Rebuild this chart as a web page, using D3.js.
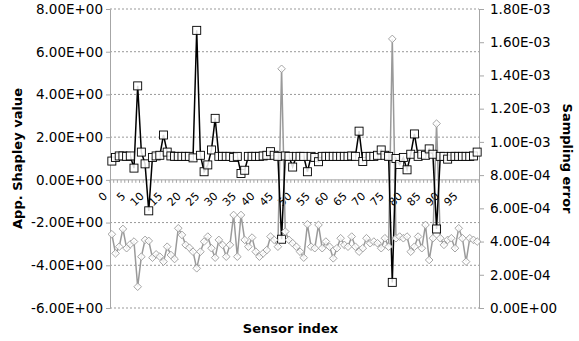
<!DOCTYPE html>
<html>
<head>
<meta charset="utf-8">
<script src="https://cdn.jsdelivr.net/npm/d3@7"></script>
<style>
  body { margin: 0; background: #fff; }
  svg { display: block; font-family: "DejaVu Sans", Verdana, sans-serif; }
</style>
</head>
<body>
<div id="chart"></div>
<script>
// --- DATA ---
const sensors = d3.range(100);

// approximate Shapley value per sensor (left axis)
const shapley = [
  0.88, 1.05, 1.12, 1.12, 1.10, 1.12, 0.55, 4.40, 1.30, 0.75,
  -1.45, 1.05, 1.12, 1.15, 2.10, 1.30, 1.12, 1.10, 1.10, 1.10,
  1.10, 1.10, 1.03, 7.00, 1.15, 0.38, 0.70, 1.40, 2.88, 1.10,
  1.10, 1.10, 1.10, 1.05, 1.10, 0.30, 0.45, 1.10, 1.10, 1.10,
  1.10, 1.12, 1.15, 1.32, 1.15, 1.10, -2.78, 1.12, 1.10, 0.60,
  1.10, 1.10, 1.10, 0.38, 1.10, 1.05, 0.85, 1.10, 1.10, 1.10,
  1.10, 1.10, 1.10, 1.10, 1.10, 1.12, 1.10, 2.28, 0.86, 1.10,
  1.10, 1.10, 1.15, 1.40, 1.15, 1.10, -4.80, 1.00, 0.72, 1.05,
  0.47, 1.20, 2.15, 1.10, 1.20, 1.15, 1.45, 1.20, -2.30, 1.10,
  1.10, 0.97, 1.10, 1.10, 1.10, 1.10, 1.10, 1.10, 1.12, 1.30
];

// sampling error per sensor (right axis)
const samplingError = [
  4.44e-4, 3.29e-4, 3.69e-4, 4.76e-4, 3.60e-4, 3.84e-4, 4.00e-4, 1.28e-4, 3.09e-4, 4.10e-4,
  4.04e-4, 3.03e-4, 3.23e-4, 3.09e-4, 2.79e-4, 3.69e-4, 3.19e-4, 2.95e-4, 4.80e-4, 4.40e-4,
  3.80e-4, 3.63e-4, 3.39e-4, 2.39e-4, 3.39e-4, 4.00e-4, 4.30e-4, 3.60e-4, 3.03e-4, 4.10e-4,
  3.80e-4, 3.09e-4, 3.80e-4, 5.60e-4, 3.09e-4, 5.60e-4, 4.10e-4, 3.69e-4, 4.24e-4, 3.39e-4,
  3.09e-4, 3.29e-4, 3.49e-4, 4.30e-4, 4.10e-4, 3.69e-4, 1.44e-3, 4.60e-4, 4.10e-4, 3.90e-4,
  3.69e-4, 3.39e-4, 3.03e-4, 5.04e-4, 3.69e-4, 3.60e-4, 5.00e-4, 3.60e-4, 4.00e-4, 3.69e-4,
  2.99e-4, 3.60e-4, 4.20e-4, 3.80e-4, 3.69e-4, 4.30e-4, 3.69e-4, 3.39e-4, 3.60e-4, 4.20e-4,
  3.90e-4, 4.00e-4, 3.90e-4, 3.60e-4, 4.20e-4, 3.69e-4, 1.62e-3, 4.20e-4, 4.30e-4, 4.20e-4,
  4.30e-4, 3.39e-4, 3.69e-4, 4.30e-4, 3.60e-4, 5.00e-4, 2.89e-4, 4.20e-4, 1.11e-3, 4.20e-4,
  3.80e-4, 4.10e-4, 4.20e-4, 3.60e-4, 4.80e-4, 4.20e-4, 2.79e-4, 4.20e-4, 4.10e-4, 4.00e-4
];

const leftTicks = [-6, -4, -2, 0, 2, 4, 6, 8];
const rightTicks = [0, 2e-4, 4e-4, 6e-4, 8e-4, 1e-3, 1.2e-3, 1.4e-3, 1.6e-3, 1.8e-3];
const xLabelTicks = d3.range(0, 100, 5);

// --- LAYOUT ---
const W = 579, H = 341;
const plot = { left: 110, right: 479, top: 9, bottom: 308 };

const svg = d3.select("#chart").append("svg")
  .attr("width", W).attr("height", H);

const x = d3.scaleBand().domain(sensors).range([plot.left, plot.right]);
const cx = i => x(i) + x.bandwidth() / 2;
const yL = d3.scaleLinear().domain([-6, 8]).range([plot.bottom, plot.top]);
const yR = d3.scaleLinear().domain([0, 1.8e-3]).range([plot.bottom, plot.top]);

// 8.00E+00 style numbers
function sci(v) {
  const [m, e] = (+v).toExponential(2).split("e");
  const sign = e[0] === "-" ? "-" : "+";
  const digits = e.replace(/^[+-]/, "").padStart(2, "0");
  return `${m}E${sign}${digits}`;
}

const axisColor = "#a6a6a6";

// gridlines
svg.append("g").selectAll("line")
  .data(leftTicks.filter(t => t !== 0))
  .join("line")
  .attr("x1", plot.left).attr("x2", plot.right)
  .attr("y1", d => yL(d)).attr("y2", d => yL(d))
  .attr("stroke", "#999").attr("stroke-width", 1)
  .attr("stroke-dasharray", "2,2");

// left axis
const gL = svg.append("g")
  .attr("transform", `translate(${plot.left},0)`)
  .call(d3.axisLeft(yL).tickValues(leftTicks).tickFormat(sci).tickSize(4).tickPadding(3));
// right axis
const gR = svg.append("g")
  .attr("transform", `translate(${plot.right},0)`)
  .call(d3.axisRight(yR).tickValues(rightTicks).tickFormat(sci).tickSize(5).tickPadding(6));

[gL, gR].forEach(g => {
  g.select(".domain").attr("stroke", axisColor);
  g.selectAll(".tick line").attr("stroke", axisColor);
  g.selectAll("text").attr("font-size", 13.5).attr("fill", "#000")
    .attr("font-family", "DejaVu Sans, Verdana, sans-serif");
});

// category axis along zero
const y0 = yL(0);
const gX = svg.append("g");
gX.append("line")
  .attr("x1", plot.left).attr("x2", plot.right)
  .attr("y1", y0).attr("y2", y0)
  .attr("stroke", axisColor);
gX.selectAll("line.tk")
  .data(d3.range(101))
  .join("line").attr("class", "tk")
  .attr("x1", i => plot.left + i * x.step()).attr("x2", i => plot.left + i * x.step())
  .attr("y1", y0).attr("y2", y0 + 3)
  .attr("stroke", axisColor);
gX.selectAll("text")
  .data(xLabelTicks)
  .join("text")
  .attr("transform", d => `translate(${cx(d) - 4},${y0 + 17}) rotate(-45)`)
  .attr("text-anchor", "end")
  .attr("font-size", 11)
  .text(d => d);

// sampling error series (secondary axis)
svg.append("path")
  .datum(samplingError)
  .attr("fill", "none").attr("stroke", "#9a9a9a").attr("stroke-width", 1.5)
  .attr("d", d3.line().x((d, i) => cx(i)).y(d => yR(d)));

// Shapley series
svg.append("path")
  .datum(shapley)
  .attr("fill", "none").attr("stroke", "#000").attr("stroke-width", 1.5)
  .attr("d", d3.line().x((d, i) => cx(i)).y(d => yL(d)));

svg.append("g").selectAll("rect")
  .data(shapley)
  .join("rect")
  .attr("x", (d, i) => cx(i) - 4).attr("y", d => yL(d) - 4)
  .attr("width", 8).attr("height", 8)
  .attr("fill", "#fff").attr("fill-opacity", 0.85)
  .attr("stroke", "#000").attr("stroke-width", 0.9);

svg.append("g").selectAll("path")
  .data(samplingError)
  .join("path")
  .attr("transform", (d, i) => `translate(${cx(i)},${yR(d)})`)
  .attr("d", "M0,-3.8L3.8,0L0,3.8L-3.8,0Z")
  .attr("fill", "#fff").attr("fill-opacity", 0.85)
  .attr("stroke", "#9a9a9a").attr("stroke-width", 0.9);

// titles
svg.append("text")
  .attr("transform", `translate(22,${(plot.top + plot.bottom) / 2}) rotate(-90)`)
  .attr("text-anchor", "middle").attr("font-weight", "bold").attr("font-size", 13)
  .text("App. Shapley value");
svg.append("text")
  .attr("transform", `translate(563,${(plot.top + plot.bottom) / 2}) rotate(90)`)
  .attr("text-anchor", "middle").attr("font-weight", "bold").attr("font-size", 13)
  .text("Sampling error");
svg.append("text")
  .attr("x", (plot.left + plot.right) / 2 - 4).attr("y", 333)
  .attr("text-anchor", "middle").attr("font-weight", "bold").attr("font-size", 13)
  .text("Sensor index");
</script>
</body>
</html>
